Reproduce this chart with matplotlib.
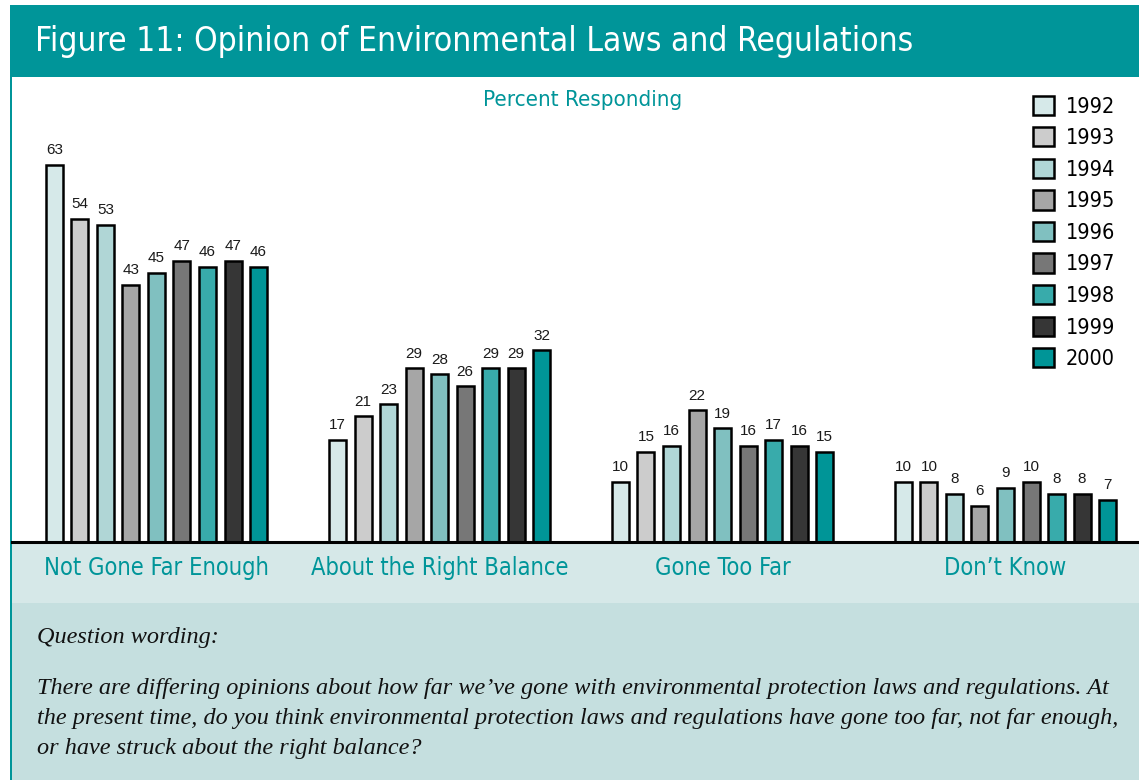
import matplotlib
matplotlib.use("Agg")
import matplotlib.pyplot as plt
from matplotlib.patches import Rectangle, Patch
import numpy as np

# data
categories = ["Not Gone Far Enough", "About the Right Balance", "Gone Too Far", "Don\u2019t Know"]
years = ["1992", "1993", "1994", "1995", "1996", "1997", "1998", "1999", "2000"]
values = {
    "1992": [63, 17, 10, 10],
    "1993": [54, 21, 15, 10],
    "1994": [53, 23, 16, 8],
    "1995": [43, 29, 22, 6],
    "1996": [45, 28, 19, 9],
    "1997": [47, 26, 16, 10],
    "1998": [46, 29, 17, 8],
    "1999": [47, 29, 16, 8],
    "2000": [46, 32, 15, 7],
}
colors = ["#d6e9e9", "#cccccc", "#b0d6d6", "#a6a6a6", "#80c0c0",
          "#777777", "#38abab", "#363636", "#009597"]

teal = "#009599"
narrow = dict(family="DejaVu Sans", stretch="condensed")

W, H = 1139, 780
fig = plt.figure(figsize=(W / 100, H / 100), dpi=100)

def px_rect(x0, y0, x1, y1, color):
    # rectangle in pixels from the top-left corner
    fig.patches.append(Rectangle((x0 / W, 1 - y1 / H), (x1 - x0) / W, (y1 - y0) / H,
                                 transform=fig.transFigure, facecolor=color,
                                 edgecolor="none", zorder=-5))

# background bands
px_rect(10, 5, W, 77, teal)
px_rect(12, 543, W, 603, "#d6e8e8")
px_rect(12, 603, W, H, "#c5dfdf")
px_rect(10, 5, 12, H, teal)

fig.text(35 / W, 1 - 42 / H, "Figure 11: Opinion of Environmental Laws and Regulations",
         color="white", fontsize=24, va="center", ha="left", **narrow)

ax = fig.add_axes([12 / W, 1 - 542 / H, (W - 12) / W, (542 - 77) / H])
ax.set_facecolor("none")

pitch = 25.5 / 283
width = 17 / 283
x = np.arange(len(categories))
for j, yr in enumerate(years):
    pos = x + (j - 4) * pitch
    bars = ax.bar(pos, values[yr], width=width, color=colors[j], edgecolor="black",
                  linewidth=1.8, zorder=3)
    for b, v in zip(bars, values[yr]):
        ax.text(b.get_x() + b.get_width() / 2, v + 1.3, str(v), ha="center", va="bottom",
                fontsize=11, color="#1a1a1a", family=["Liberation Sans", "DejaVu Sans"])

ax.set_xlim((12 - 156.5) / 283, (W - 156.5) / 283)
ax.set_ylim(0, 465 / 5.985)
for s in ["top", "right", "left"]:
    ax.spines[s].set_visible(False)
ax.spines["bottom"].set_linewidth(2.2)
ax.spines["bottom"].set_zorder(4)
ax.set_yticks([])
ax.set_xticks(x)
ax.set_xticklabels(categories, fontsize=17, color=teal, **narrow)
ax.tick_params(axis="x", length=0, pad=10)

ax.text((583 - 12) / (W - 12), 0.95, "Percent Responding", transform=ax.transAxes, ha="center",
        va="center", color=teal, fontsize=16, **narrow)

handles = [Patch(facecolor=c, edgecolor="black", linewidth=1.8) for c in colors]
leg = ax.legend(handles, years, loc="upper left",
                bbox_to_anchor=(1024 / W, 1 - 87 / H), bbox_transform=fig.transFigure,
                frameon=False, prop=dict(size=15.5, **narrow),
                handlelength=1.0, handleheight=1.0, handletextpad=0.55,
                labelspacing=0.49, borderaxespad=0.0, borderpad=0.4)

serif = ["Liberation Serif", "DejaVu Serif"]
fig.text(37 / W, 1 - 637 / H, "Question wording:", fontsize=17.5, style="italic",
         family=serif, va="center", color="#111111")
q = ("There are differing opinions about how far we\u2019ve gone with environmental protection laws and regulations. At\n"
     "the present time, do you think environmental protection laws and regulations have gone too far, not far enough,\n"
     "or have struck about the right balance?")
fig.text(37 / W, 1 - 678 / H, q, fontsize=17.5, style="italic", linespacing=1.55,
         family=serif, va="top", color="#111111")

fig.savefig("out.png", dpi=100)
